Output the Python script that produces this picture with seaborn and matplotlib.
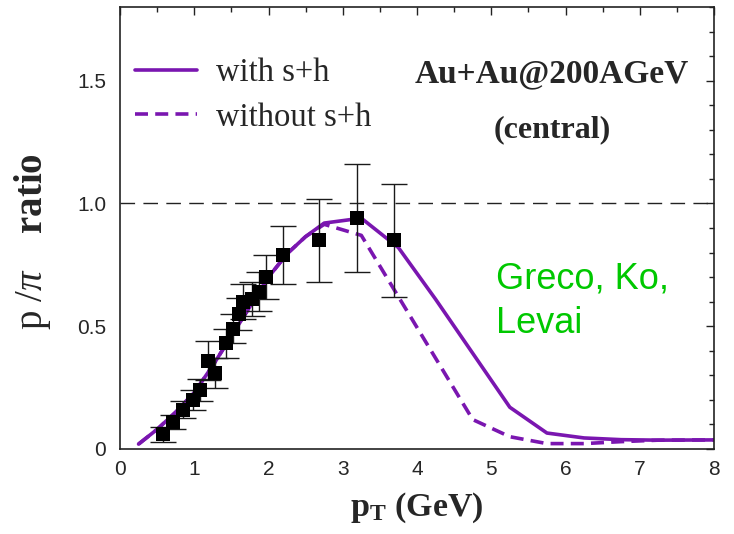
import matplotlib
matplotlib.use("Agg")
import matplotlib.pyplot as plt
from matplotlib.ticker import MultipleLocator, FixedLocator, FixedFormatter
import numpy as np
import pandas as pd
import seaborn as sns

# Model curves: proton / pion ratio versus transverse momentum
pt_with = [0.25, 0.5, 0.75, 1.0, 1.25, 1.5, 1.75, 2.0, 2.25, 2.5, 2.75, 3.25,
           3.75, 4.25, 4.75, 5.25, 5.75, 6.25, 6.75, 7.25, 8.0]
ratio_with = [0.02, 0.08, 0.15, 0.23, 0.34, 0.46, 0.58, 0.70, 0.795, 0.865, 0.92, 0.94,
              0.82, 0.61, 0.39, 0.17, 0.065, 0.045, 0.038, 0.036, 0.037]

pt_without = [0.25, 0.5, 0.75, 1.0, 1.25, 1.5, 1.75, 2.0, 2.25, 2.5, 2.75, 3.25,
              3.75, 4.25, 4.75, 5.25, 5.75, 6.25, 6.75, 7.25, 8.0]
ratio_without = [0.02, 0.08, 0.15, 0.23, 0.34, 0.46, 0.58, 0.70, 0.795, 0.865, 0.915, 0.87,
                 0.62, 0.37, 0.12, 0.05, 0.022, 0.022, 0.03, 0.036, 0.037]

# Measured points with vertical uncertainties
pt_data = [0.58, 0.72, 0.85, 0.98, 1.08, 1.19, 1.28, 1.43, 1.52, 1.60, 1.66,
           1.78, 1.87, 1.96, 2.19, 2.68, 3.19, 3.69]
ratio_data = [0.06, 0.11, 0.16, 0.20, 0.24, 0.36, 0.31, 0.43, 0.49, 0.55, 0.60,
              0.61, 0.64, 0.70, 0.79, 0.85, 0.94, 0.85]
ratio_err = [0.03, 0.03, 0.035, 0.04, 0.045, 0.08, 0.06, 0.06, 0.06, 0.065, 0.07,
             0.07, 0.08, 0.09, 0.12, 0.17, 0.22, 0.23]

x_ticks = [0, 1, 2, 3, 4, 5, 6, 7, 8]
x_tick_labels = ["0", "1", "2", "3", "4", "5", "6", "7", "8"]
y_ticks = [0, 0.5, 1.0, 1.5]
y_tick_labels = ["0", "0.5", "1.0", "1.5"]

legend_labels = ["with s+h", "without s+h"]
system_label = "Au+Au@200AGeV"
centrality_label = "(central)"
credit_lines = ["Greco, Ko,", "Levai"]

curves = pd.concat([
    pd.DataFrame({"pt": pt_with, "ratio": ratio_with, "model": legend_labels[0]}),
    pd.DataFrame({"pt": pt_without, "ratio": ratio_without, "model": legend_labels[1]}),
])
points = pd.DataFrame({"pt": pt_data, "ratio": ratio_data, "err": ratio_err})

sns.set_style("white")
plt.rcParams["font.family"] = ["Liberation Sans", "DejaVu Sans"]
plt.rcParams["mathtext.fontset"] = "custom"
plt.rcParams["mathtext.rm"] = "Liberation Serif"
plt.rcParams["mathtext.it"] = "Liberation Serif:italic"
plt.rcParams["mathtext.bf"] = "Liberation Serif:bold"

purple = "#7a16b0"
serif = ["Liberation Serif", "DejaVu Serif"]

fig = plt.figure(figsize=(7.34, 5.34), dpi=100)
ax = fig.add_axes([120 / 734, 1 - 449 / 534, 594 / 734, 442 / 534])

lw = 2.6
sns.lineplot(data=curves[curves["model"] == legend_labels[0]], x="pt", y="ratio",
             ax=ax, color=purple, lw=lw, label=legend_labels[0], zorder=2)
sns.lineplot(data=curves[curves["model"] == legend_labels[1]], x="pt", y="ratio",
             ax=ax, color=purple, lw=lw, linestyle=(0, (3.6, 2.0)),
             label=legend_labels[1], zorder=2)

ax.axhline(1.0, color="#222222", lw=1.0, linestyle=(0, (10.5, 6)), zorder=1)

ax.errorbar(points["pt"], points["ratio"], yerr=points["err"], fmt="none",
            ecolor="#1a1a1a", elinewidth=1.0, capsize=9.5, capthick=1.0, zorder=3)
sns.scatterplot(data=points, x="pt", y="ratio", ax=ax, marker="s", s=100,
                color="black", edgecolor="black", linewidth=0, zorder=4, legend=False)

ax.set_xlim(0, 8)
ax.set_ylim(0, 1.8)
ax.xaxis.set_major_locator(FixedLocator(x_ticks))
ax.xaxis.set_major_formatter(FixedFormatter(x_tick_labels))
ax.yaxis.set_major_locator(FixedLocator(y_ticks))
ax.yaxis.set_major_formatter(FixedFormatter(y_tick_labels))
ax.xaxis.set_minor_locator(MultipleLocator(0.5))
ax.yaxis.set_minor_locator(MultipleLocator(0.1))
ax.tick_params(which="both", direction="in", top=True, right=True,
               color="#222222", width=1.0)
ax.tick_params(which="major", length=6, labelsize=15)
ax.tick_params(which="minor", length=3.5)
ax.tick_params(axis="x", which="major", pad=8)
ax.tick_params(axis="y", which="major", pad=10)
for sp in ax.spines.values():
    sp.set_color("#222222")
    sp.set_linewidth(1.2)

ax.set_xlabel(r"$\mathbf{p}_{\mathbf{T}}$ (GeV)", fontsize=24.5, family=serif,
              fontweight="bold", labelpad=8)
ax.set_ylabel(r"$\mathrm{p}\ /\pi\quad\ \mathbf{ratio}$", fontsize=28, labelpad=6)
ax.yaxis.set_label_coords(-0.112, 0.47)

leg = ax.legend(loc="upper left", bbox_to_anchor=(0.025, 0.885), frameon=False,
                prop={"family": serif, "size": 23.5}, handlelength=1.9,
                handletextpad=0.6, labelspacing=0.42, borderpad=0, borderaxespad=0)

ax.text(5.82, 1.494, system_label, ha="center", va="baseline", fontsize=24,
        family=serif, fontweight="bold")
ax.text(5.82, 1.27, centrality_label, ha="center", va="baseline", fontsize=23,
        family=serif, fontweight="bold")

ax.text(5.06, 0.655, credit_lines[0], ha="left", va="baseline", fontsize=26,
        color="#00c800")
ax.text(5.06, 0.472, credit_lines[1], ha="left", va="baseline", fontsize=26,
        color="#00c800")

fig.savefig("out.png", dpi=100, facecolor="white")
